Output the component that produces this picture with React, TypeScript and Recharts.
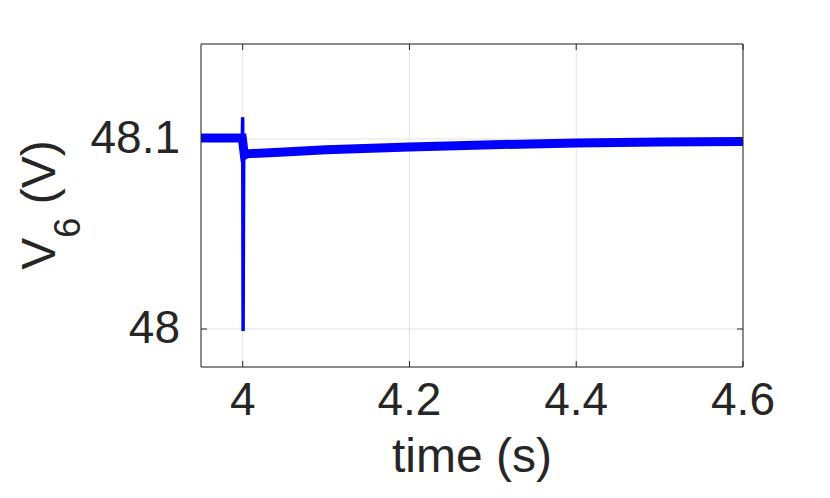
import { CartesianGrid, Label, Line, LineChart, XAxis, YAxis } from "recharts";

// ─── Data ────────────────────────────────────────────────────

const bandTime = [3.95, 3.98, 3.9995, 4.002, 4.005, 4.05, 4.1, 4.2, 4.3, 4.4, 4.5, 4.6];
const bandV6 = [48.1005, 48.1005, 48.1005, 48.0915, 48.0922, 48.0932, 48.0943, 48.0958, 48.097, 48.0979, 48.0984, 48.0987];

const spikeTime = [3.9995, 4.0, 4.0005, 4.0012];
const spikeV6 = [48.1005, 48.1115, 47.999, 48.091];

const xTicks = [4, 4.2, 4.4, 4.6];
const yTicks = [48, 48.1];

const bandData = bandTime.map((t, i) => ({ t, v: bandV6[i] }));
const spikeData = spikeTime.map((t, i) => ({ t, v: spikeV6[i] }));

// ─── Styles ──────────────────────────────────────────────────

const FONT = "'Liberation Sans', Arial, Helvetica, sans-serif";
const INK = "#262626";
const TICK_LEN = 6;

function BottomTick({ x, y, payload }: any) {
  return (
    <g>
      <line x1={x} x2={x} y1={y} y2={y - TICK_LEN} stroke={INK} strokeWidth={1} />
      <text x={x} y={y + 48} textAnchor="middle" fontSize={46} fontFamily={FONT} fill={INK}>
        {String(payload.value)}
      </text>
    </g>
  );
}

function TopTick({ x, y }: any) {
  return <line x1={x} x2={x} y1={y} y2={y + TICK_LEN} stroke={INK} strokeWidth={1} />;
}

function LeftTick({ x, y, payload }: any) {
  return (
    <g>
      <line x1={x} x2={x + TICK_LEN} y1={y} y2={y} stroke={INK} strokeWidth={1} />
      <text x={x - 21} y={y + 14} textAnchor="end" fontSize={46} fontFamily={FONT} fill={INK}>
        {String(payload.value)}
      </text>
    </g>
  );
}

function RightTick({ x, y }: any) {
  return <line x1={x} x2={x - TICK_LEN} y1={y} y2={y} stroke={INK} strokeWidth={1} />;
}

function YLabel() {
  const cx = 55;
  const cy = 205;
  return (
    <text
      x={cx}
      y={cy}
      textAnchor="middle"
      fontSize={48}
      fontFamily={FONT}
      fill={INK}
      transform={`rotate(-90, ${cx}, ${cy})`}
    >
      V
      <tspan fontSize={36} dy={25}>6</tspan>
      <tspan dy={-25}> (V)</tspan>
    </text>
  );
}

function XLabel() {
  return (
    <text x={472} y={472} textAnchor="middle" fontSize={48} fontFamily={FONT} fill={INK}>
      time (s)
    </text>
  );
}

export default function App() {
  return (
    <div style={{ width: 830, height: 498, background: "#fff" }}>
      <style>{`body{margin:0}`}</style>
      <LineChart width={830} height={498} margin={{ top: 43, right: 86, bottom: 0, left: 0 }}>
        <CartesianGrid stroke="#e3e3e3" strokeWidth={1} />
        <XAxis
          dataKey="t"
          type="number"
          domain={[3.95, 4.6]}
          ticks={xTicks}
          allowDataOverflow
          height={131}
          tickSize={0}
          tickMargin={0}
          tickLine={false}
          tick={<BottomTick />}
          axisLine={{ stroke: INK, strokeWidth: 1 }}
        >
          <Label content={<XLabel />} />
        </XAxis>
        <XAxis
          xAxisId="top"
          orientation="top"
          dataKey="t"
          type="number"
          domain={[3.95, 4.6]}
          ticks={xTicks}
          allowDataOverflow
          height={1}
          tickSize={0}
          tickMargin={0}
          tickLine={false}
          tick={<TopTick />}
          axisLine={{ stroke: INK, strokeWidth: 1 }}
        />
        <YAxis
          type="number"
          domain={[47.98, 48.15]}
          ticks={yTicks}
          allowDataOverflow
          width={201}
          tickSize={0}
          tickMargin={0}
          tickLine={false}
          tick={<LeftTick />}
          axisLine={{ stroke: INK, strokeWidth: 1 }}
        >
          <Label content={<YLabel />} />
        </YAxis>
        <YAxis
          yAxisId="right"
          orientation="right"
          type="number"
          domain={[47.98, 48.15]}
          ticks={yTicks}
          allowDataOverflow
          width={1}
          tickSize={0}
          tickMargin={0}
          tickLine={false}
          tick={<RightTick />}
          axisLine={{ stroke: INK, strokeWidth: 1 }}
        />
        <Line
          data={bandData}
          dataKey="v"
          type="linear"
          stroke="#0000ff"
          strokeWidth={9}
          dot={false}
          isAnimationActive={false}
        />
        <Line
          data={spikeData}
          dataKey="v"
          type="linear"
          stroke="#0000ff"
          strokeWidth={3.5}
          dot={false}
          isAnimationActive={false}
        />
      </LineChart>
    </div>
  );
}
